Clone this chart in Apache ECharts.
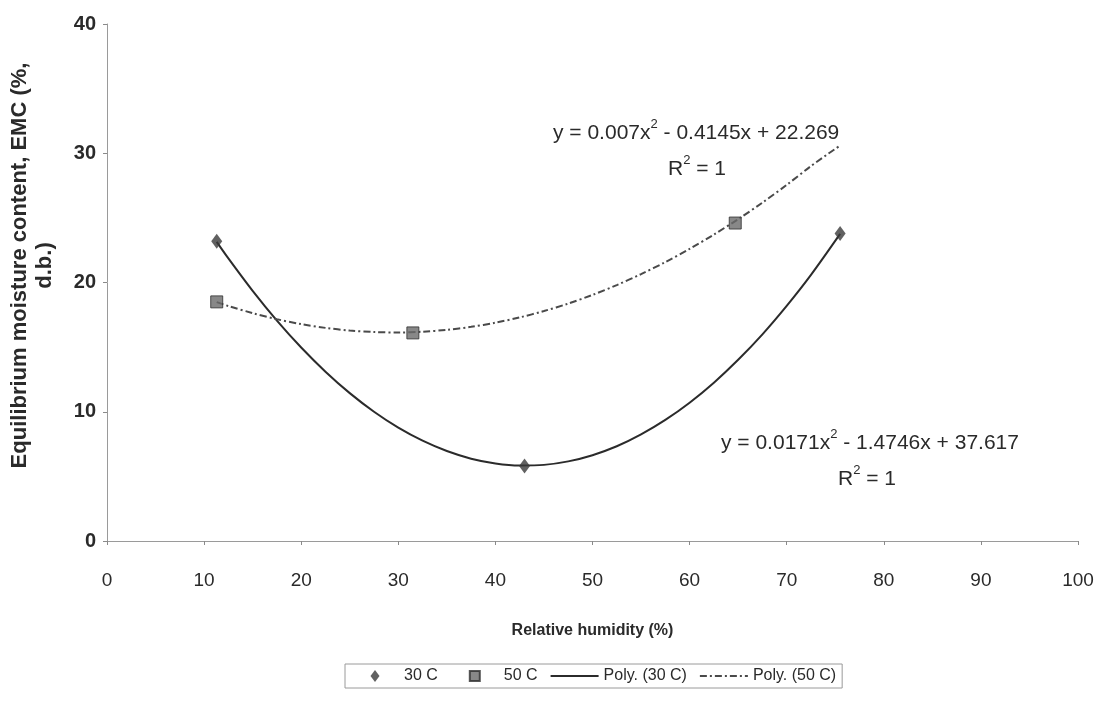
<!DOCTYPE html>
<html>
<head>
<meta charset="utf-8">
<title>EMC vs relative humidity</title>
<script src="https://cdn.jsdelivr.net/npm/echarts@6/dist/echarts.min.js"></script>
<style>
  html, body { margin: 0; padding: 0; background: #fff; }
  #chart { width: 1107px; height: 701px; }
</style>
</head>
<body>
<div id="chart"></div>
<script>
// measured points (RH %, EMC %)
var rh30 = [11.3, 43, 75.5];
var emc30 = [23.2, 5.8, 23.8];
var rh50 = [11.3, 31.5, 64.7];
var emc50 = [18.5, 16.1, 24.6];

// trend curves, values
var trendX = [11.3, 12.5, 15, 17.5, 20, 22.5, 25, 27.5, 30, 32.5, 35, 37.5, 40, 42.5, 45, 47.5,
              50, 52.5, 55, 57.5, 60, 62.5, 65, 67.5, 70, 72.5, 75.5];
var trend30 = [23.14, 21.86, 19.35, 17.05, 14.97, 13.10, 11.44, 10.00, 8.77, 7.76, 6.96, 6.37, 6.00, 5.84,
               5.89, 6.16, 6.64, 7.33, 8.25, 9.37, 10.70, 12.25, 14.02, 15.99, 18.19, 20.59, 23.76];
var trend50 = [18.48, 18.18, 17.63, 17.16, 16.78, 16.49, 16.28, 16.17, 16.13, 16.19, 16.34, 16.57, 16.89, 17.30,
               17.79, 18.37, 19.04, 19.80, 20.65, 21.58, 22.60, 23.71, 24.90, 26.18, 27.55, 29.01, 30.60];

var xTicks = { min: 0, max: 100, step: 10 };
var yTicks = { min: 0, max: 40, step: 10 };

function pairs(xs, ys) {
  return xs.map(function (x, i) { return [x, ys[i]]; });
}

var sans = '"Liberation Sans", Arial, sans-serif';
var textColor = '#2a2a2a';

// legend icons: the leading moves span the whole 48x12 icon box so the mark stays centred
var diamondIcon = 'path://M0,0M48,12M24,0L28.5,6L24,12L19.5,6Z';
var squareIcon = 'path://M0,0M48,12M19,1H29V11H19Z';

// equation labels with a superscript 2
var eqRich = {
  t: { fontFamily: sans, fontSize: 21, fill: textColor, lineHeight: 26, verticalAlign: 'bottom' },
  s: { fontFamily: sans, fontSize: 13, fill: textColor, lineHeight: 26, verticalAlign: 'top', padding: [0, 0, 10, 0] }
};

var chart = echarts.init(document.getElementById('chart'), null, { renderer: 'canvas' });

chart.setOption({
  backgroundColor: '#fff',
  animation: false,
  grid: { left: 107, right: 29, top: 24, bottom: 160, containLabel: false, outerBoundsMode: 'none' },
  legend: {
    top: 664,
    left: 345,
    orient: 'horizontal',
    data: [
      { name: '30 C', icon: diamondIcon },
      { name: '50 C', icon: squareIcon },
      { name: 'Poly. (30 C)', itemStyle: { opacity: 0 } },
      { name: 'Poly. (50 C)', itemStyle: { opacity: 0 } }
    ],
    borderColor: '#9a9a9a',
    borderWidth: 1,
    padding: [4, 6],
    itemGap: 12,
    itemWidth: 48,
    itemHeight: 12,
    textStyle: { fontFamily: sans, fontSize: 16, color: textColor }
  },
  xAxis: {
    type: 'value',
    min: xTicks.min,
    max: xTicks.max,
    interval: xTicks.step,
    name: 'Relative humidity (%)',
    nameLocation: 'middle',
    nameGap: 82,
    nameTextStyle: { fontFamily: sans, fontWeight: 'bold', fontSize: 16, color: textColor },
    axisLine: { show: true, lineStyle: { color: '#9a9a9a', width: 1 } },
    axisTick: { show: true, length: 4, lineStyle: { color: '#8a8a8a' } },
    splitLine: { show: false },
    axisLabel: { fontFamily: sans, fontSize: 19, color: textColor, margin: 30 }
  },
  yAxis: {
    type: 'value',
    min: yTicks.min,
    max: yTicks.max,
    interval: yTicks.step,
    name: 'Equilibrium moisture content, EMC (%,\nd.b.)',
    nameLocation: 'middle',
    nameRotate: 90,
    nameGap: 50,
    nameTextStyle: {
      fontFamily: sans, fontWeight: 'bold', fontSize: 22, color: textColor,
      lineHeight: 25, align: 'center', padding: [0, 0, 0, 34]
    },
    axisLine: { show: true, lineStyle: { color: '#9a9a9a', width: 1 } },
    axisTick: { show: true, length: 4, lineStyle: { color: '#8a8a8a' } },
    splitLine: { show: false },
    axisLabel: { fontFamily: sans, fontWeight: 'bold', fontSize: 20, color: textColor, margin: 11 }
  },
  series: [
    {
      name: 'Poly. (30 C)',
      type: 'line',
      data: pairs(trendX, trend30),
      smooth: 0.3,
      showSymbol: false,
      lineStyle: { color: '#2b2b2b', width: 2 },
      itemStyle: { color: '#2b2b2b' },
      z: 2
    },
    {
      name: 'Poly. (50 C)',
      type: 'line',
      data: pairs(trendX, trend50),
      smooth: 0.3,
      showSymbol: false,
      lineStyle: { color: '#4a4a4a', width: 2, type: [7, 3, 2, 3] },
      itemStyle: { color: '#4a4a4a' },
      z: 2
    },
    {
      name: '30 C',
      type: 'scatter',
      data: pairs(rh30, emc30),
      symbol: 'diamond',
      symbolSize: [11, 15],
      itemStyle: { color: '#3a3a3a' },
      z: 5
    },
    {
      name: '50 C',
      type: 'scatter',
      data: pairs(rh50, emc50),
      symbol: 'rect',
      symbolSize: 12,
      itemStyle: { color: '#6a6a6a', borderColor: '#2e2e2e', borderWidth: 1 },
      z: 5
    }
  ],
  graphic: [
    { type: 'text', left: 553, top: 118, style: { text: '{t|y = 0.007x}{s|2}{t| - 0.4145x + 22.269}', rich: eqRich } },
    { type: 'text', left: 668, top: 154, style: { text: '{t|R}{s|2}{t| = 1}', rich: eqRich } },
    { type: 'text', left: 721, top: 428, style: { text: '{t|y = 0.0171x}{s|2}{t| - 1.4746x + 37.617}', rich: eqRich } },
    { type: 'text', left: 838, top: 464, style: { text: '{t|R}{s|2}{t| = 1}', rich: eqRich } }
  ]
});

window.addEventListener('resize', function () { chart.resize(); });
</script>
</body>
</html>
